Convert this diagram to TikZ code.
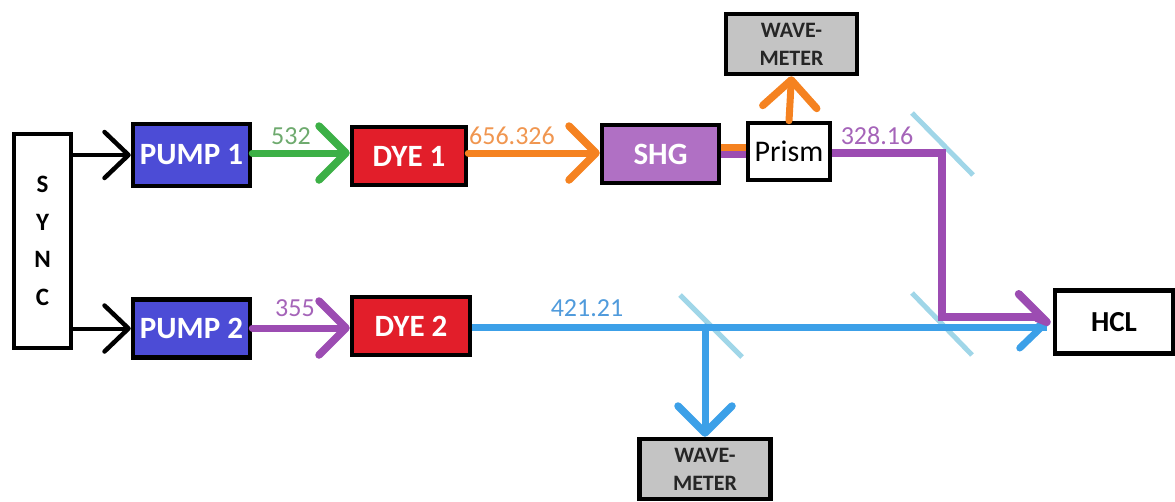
\documentclass[tikz,border=0pt]{standalone}
\usepackage{fontspec}
\setmainfont{Carlito}
\usetikzlibrary{arrows.meta,calc}

\definecolor{pumpblue}{RGB}{76,76,214}
\definecolor{dyered}{RGB}{226,30,42}
\definecolor{shgfill}{RGB}{176,112,196}
\definecolor{wmgray}{RGB}{196,196,196}
\definecolor{beamgreen}{RGB}{60,176,70}
\definecolor{beamorange}{RGB}{245,130,32}
\definecolor{beampurple}{RGB}{156,76,178}
\definecolor{beamblue}{RGB}{60,160,232}
\definecolor{mirror}{RGB}{160,214,232}
\definecolor{lblgreen}{RGB}{110,170,110}
\definecolor{lblorange}{RGB}{240,150,80}
\definecolor{lblpurple}{RGB}{165,100,185}
\definecolor{lblblue}{RGB}{80,155,220}

\begin{document}
\begin{tikzpicture}[x=1pt,y=-1pt,
  box/.style={draw=black, line width=4.5pt, inner sep=0pt, font=\bfseries\fontsize{31}{33}\selectfont},
  wmbox/.style={box, fill=wmgray, minimum width=131pt, minimum height=60pt, align=center,
                font=\bfseries\fontsize{22}{28}\selectfont, text=black!85},
  beam/.style={line width=7pt, line cap=round, line join=miter},
  tiparm/.style={line width=7pt, line cap=round, line join=round},
  chev/.style={-{Straight Barb[length=27pt,width=54pt,line width=7.5pt,round]}},
  sig/.style={line width=4pt, -{Straight Barb[length=24pt,width=46pt,line width=4.5pt,round]}},
  lbl/.style={font=\fontsize{26}{28}\selectfont},
  mirrorline/.style={draw=mirror, line width=5pt}]

\useasboundingbox (0,0) rectangle (1175,501);

% instruments
\node[box, minimum width=57pt, minimum height=214pt, align=center,
      font=\bfseries\fontsize{25}{37.5}\selectfont] (sync) at (42.5,241) {S\\Y\\N\\C};
\node[box, fill=pumpblue, text=white, minimum width=117pt, minimum height=62pt] (pump1) at (191.5,155) {PUMP 1};
\node[box, fill=pumpblue, text=white, minimum width=117pt, minimum height=58pt] (pump2) at (191.5,328.5) {PUMP 2};
\node[box, fill=dyered, text=white, minimum width=114pt, minimum height=58pt] (dye1) at (409,156) {DYE 1};
\node[box, fill=dyered, text=white, minimum width=118pt, minimum height=58pt] (dye2) at (411,326) {DYE 2};
\node[box, fill=shgfill, text=white, minimum width=117pt, minimum height=58pt] (shg) at (660.5,154) {SHG};
\node[box, fill=white, minimum width=82pt, minimum height=57pt,
      font=\fontsize{30}{32}\selectfont] (prism) at (789,151.5) {Prism};
\node[wmbox] (wm1) at (791.5,44) {WAVE-\\METER};
\node[wmbox] (wm2) at (705,469) {WAVE-\\METER};
\node[box, fill=white, minimum width=118pt, minimum height=63pt,
      font=\bfseries\fontsize{29}{31}\selectfont] (hcl) at (1114,322) {HCL};

% beam turning points and the common tip at the cell
\coordinate (m1) at (942,153);
\coordinate (m2) at (942,317);
\coordinate (m3) at (705,327);
\coordinate (ht) at ($(hcl.west)+(-6,0)$);

% mirrors
\draw[mirrorline] ($(m1)+(-30,-40)$) -- ($(m1)+(31,22)$);
\draw[mirrorline] ($(m2)+(-30,-24)$) -- ($(m2)+(30,38)$);
\draw[mirrorline] ($(m3)+(-25,-32)$) -- ($(m3)+(37,30)$);

% trigger lines
\draw[sig] (sync.east |- pump1.west) -- (pump1.west);
\draw[sig] (sync.east |- pump2.west) -- (pump2.west);

% beams
\draw[beam, beamgreen, chev] (pump1.east |- 0,153) -- (dye1.west |- 0,153);
\draw[beam, beamorange, chev] (dye1.east |- 0,153) -- (shg.west |- 0,153);
\draw[beam, beampurple, chev] (pump2.east |- 0,328) -- (dye2.west |- 0,328);
\draw[beam, beamorange, line cap=butt] (shg.east |- 0,147) -- (prism.west |- 0,147);
\draw[beam, beampurple, line cap=butt] (shg.east |- 0,154) -- (prism.west |- 0,154);
\draw[beam, beamorange, chev] (prism.north) -- (wm1.south);
\draw[beam, beamblue, chev] (m3) -- (wm2.north);

% both UV beams reach the cell at one shared tip
\draw[beam, beamblue, line cap=butt] (dye2.east |- m3) -- (m3 -| ht);
\draw[tiparm, beamblue] ($(ht)+(-27,26)$) -- (ht) -- ($(ht)+(-8,4)$);
\draw[beam, line width=8pt, beampurple, line cap=butt] (prism.east |- m1) -- (m1) -- (m2) -- ($(m2 -| ht)+(-6,0)$);
\draw[tiparm, line width=8pt, beampurple] ($(ht)+(-28,-28)$) -- (ht) -- ($(ht)+(-10,-4)$);

% wavelength labels
\node[lbl, text=lblgreen] (l532) at (291,136) {532};
\node[lbl, text=lblorange] (l656) at (512,136) {656.326};
\node[lbl, text=lblpurple] (l355) at (295,308) {355};
\node[lbl, text=lblblue] (l421) at (587,308) {421.21};
\node[lbl, text=lblpurple] (l328) at (877,136) {328.16};
\end{tikzpicture}
\end{document}
